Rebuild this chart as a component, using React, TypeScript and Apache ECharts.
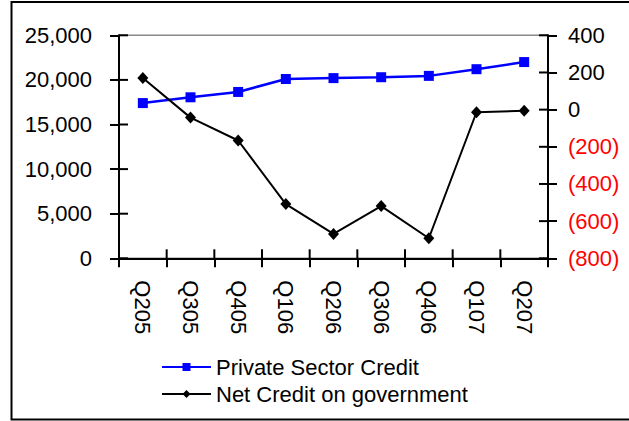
import React, { useEffect, useRef } from "react";
import * as echarts from "echarts";

const categories = ["Q205", "Q305", "Q405", "Q106", "Q206", "Q306", "Q406", "Q107", "Q207"];
const privateSectorCredit = [17400, 18050, 18650, 20100, 20200, 20300, 20450, 21200, 22000];
const netCreditGovernment = [170, -43, -166, -508, -669, -519, -692, -14, -6];
const seriesNames = ["Private Sector Credit", "Net Credit on government"];
const leftTicks = [0, 5000, 10000, 15000, 20000, 25000];
const rightTicks = [-800, -600, -400, -200, 0, 200, 400];

const FONT = "'Liberation Sans', Arial, sans-serif";

export default function App() {
  const ref = useRef<HTMLDivElement>(null);
  useEffect(() => {
    if (!ref.current) return;
    const chart = echarts.init(ref.current, null, { renderer: "svg" });
    const leftFmt = (v: number) => v.toLocaleString("en-US");
    const rightFmt = (v: number) => (v < 0 ? "(" + Math.abs(v) + ")" : String(v));
    const axisText = { fontFamily: FONT, fontSize: 22, color: "#000" };
    const tickStyle = { color: "#000", width: 2 };
    const TL = 9;
    const tickLine = (x1: number, y1: number, x2: number, y2: number) => ({
      type: "line",
      shape: { x1, y1, x2, y2 },
      style: { stroke: "#000", lineWidth: 2 },
    });
    chart.setOption({
      animation: false,
      textStyle: { fontFamily: FONT },
      graphic: [
        {
          type: "rect",
          shape: { x: 11.5, y: 2, width: 700, height: 417.5 },
          style: { fill: "none", stroke: "#000", lineWidth: 2 },
          silent: true,
          z: 0,
        },
      ],
      grid: {
        left: 119,
        right: 81,
        top: 35.3,
        bottom: 162.7,
        show: true,
        borderColor: "#888",
        borderWidth: 1.5,
        backgroundColor: "transparent",
      },
      legend: {
        data: seriesNames,
        orient: "vertical",
        left: 156,
        top: 351,
        itemWidth: 49,
        itemHeight: 10,
        itemGap: 5,
        textStyle: { fontFamily: FONT, fontSize: 22, color: "#000", lineHeight: 22 },
      },
      xAxis: {
        type: "category",
        data: categories,
        position: "bottom",
        boundaryGap: true,
        axisLine: { show: true, onZero: false, lineStyle: { color: "#000", width: 2 } },
        axisTick: { show: true, inside: false, length: TL, lineStyle: tickStyle },
        axisLabel: { ...axisText, rotate: -90, margin: 22, interval: 0 },
        splitLine: { show: false },
      },
      yAxis: [
        {
          type: "value",
          position: "left",
          min: 0,
          max: 25000,
          interval: 5000,
          axisLine: { show: true, onZero: false, lineStyle: { color: "#000", width: 2 } },
          axisTick: { show: true, inside: false, length: TL, lineStyle: tickStyle },
          axisLabel: { ...axisText, margin: 27, formatter: leftFmt },
          splitLine: { show: false },
        },
        {
          type: "value",
          position: "right",
          min: -800,
          max: 400,
          interval: 200,
          axisLine: { show: true, onZero: false, lineStyle: { color: "#000", width: 2 } },
          axisTick: { show: true, inside: false, length: TL, lineStyle: tickStyle },
          axisLabel: {
            ...axisText,
            margin: 20,
            formatter: rightFmt,
            color: (v: any) => (Number(v) < 0 ? "#ff0000" : "#000"),
          },
          splitLine: { show: false },
        },
      ],
      series: [
        {
          name: seriesNames[0],
          type: "line",
          yAxisIndex: 0,
          data: privateSectorCredit,
          symbol: "rect",
          symbolSize: 10,
          lineStyle: { color: "#0000ff", width: 2.5 },
          itemStyle: { color: "#0000ff" },
          z: 3,
        },
        {
          name: seriesNames[1],
          type: "line",
          yAxisIndex: 1,
          data: netCreditGovernment,
          symbol: "diamond",
          symbolSize: [11, 12],
          lineStyle: { color: "#000", width: 2 },
          itemStyle: { color: "#000" },
          z: 3,
        },
        {
          name: "xTicksInner",
          type: "custom",
          yAxisIndex: 0,
          silent: true,
          clip: false,
          z: 4,
          data: categories.map((_, i) => [i, 0]),
          renderItem: (params: any, api: any) => {
            const c = api.coord([api.value(0), 0]);
            const w = api.size([1, 0])[0];
            const x = c[0] - w / 2;
            return tickLine(x, c[1], x, c[1] - TL);
          },
        },
        {
          name: "leftTicksInner",
          type: "custom",
          yAxisIndex: 0,
          silent: true,
          clip: false,
          z: 4,
          data: leftTicks.map((v) => [0, v]),
          renderItem: (params: any, api: any) => {
            const c = api.coord([0, api.value(1)]);
            const w = api.size([1, 0])[0];
            const x = c[0] - w / 2;
            return tickLine(x, c[1], x + TL, c[1]);
          },
        },
        {
          name: "rightTicksInner",
          type: "custom",
          yAxisIndex: 1,
          silent: true,
          clip: false,
          z: 4,
          data: rightTicks.map((v) => [categories.length - 1, v]),
          renderItem: (params: any, api: any) => {
            const c = api.coord([categories.length - 1, api.value(1)]);
            const w = api.size([1, 0])[0];
            const x = c[0] + w / 2;
            return tickLine(x - TL, c[1], x, c[1]);
          },
        },
      ],
    });
    return () => chart.dispose();
  }, []);
  return (
    <div
      ref={ref}
      style={{ position: "fixed", left: 0, top: 0, width: 629, height: 421, background: "#fff" }}
    />
  );
}
